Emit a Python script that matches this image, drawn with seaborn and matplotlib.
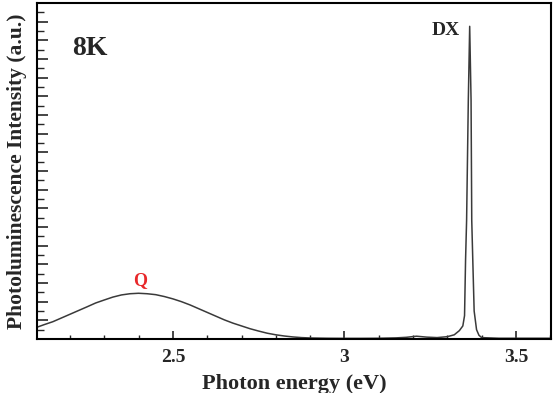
import numpy as np
import matplotlib
matplotlib.use("Agg")
import matplotlib.pyplot as plt
from matplotlib.ticker import MultipleLocator
import seaborn as sns
import pandas as pd

# PL spectrum (intensity in arbitrary units)
energy = [2.100, 2.125, 2.150, 2.175, 2.200, 2.225, 2.250, 2.275, 2.300, 2.325,
          2.350, 2.375, 2.400, 2.425, 2.450, 2.475, 2.500, 2.525, 2.550, 2.575,
          2.600, 2.625, 2.650, 2.675, 2.700, 2.725, 2.750, 2.775, 2.800, 2.825,
          2.850, 2.875, 2.900, 2.950, 3.000, 3.050, 3.100, 3.150, 3.180, 3.210,
          3.240, 3.270, 3.300, 3.320, 3.335, 3.345, 3.350, 3.353, 3.356, 3.361,
          3.365, 3.369, 3.371, 3.374, 3.378, 3.385, 3.392, 3.400, 3.450, 3.600]
intensity = [1.21, 1.54, 1.85, 2.25, 2.65, 3.05, 3.45, 3.86, 4.18, 4.49,
             4.72, 4.85, 4.90, 4.85, 4.75, 4.55, 4.30, 4.00, 3.65, 3.25,
             2.85, 2.45, 2.05, 1.70, 1.40, 1.10, 0.85, 0.62, 0.45, 0.32,
             0.22, 0.15, 0.11, 0.08, 0.07, 0.07, 0.08, 0.12, 0.18, 0.30,
             0.20, 0.15, 0.25, 0.45, 0.90, 1.40, 2.50, 8.50, 12.7, 25.6,
             33.5, 25.6, 12.7, 8.50, 3.00, 1.00, 0.40, 0.15, 0.08, 0.08]

df = pd.DataFrame({"energy": energy, "intensity": intensity})

sns.set_style("ticks")
plt.rcParams['font.family'] = ['Liberation Serif', 'DejaVu Serif']

fig = plt.figure(figsize=(5.54, 3.93), dpi=100)
ax = fig.add_axes([0.0668, 0.1374, 0.9278, 0.855])

sns.lineplot(data=df, x="energy", y="intensity", color="#3a3a3a", linewidth=1.1,
             estimator=None, ax=ax)

ax.set_xlim(2.104, 3.602)
ax.set_ylim(0, 36)
ax.xaxis.set_major_locator(MultipleLocator(0.5))
ax.xaxis.set_minor_locator(MultipleLocator(0.1))
ax.yaxis.set_major_locator(MultipleLocator(2))
ax.yaxis.set_minor_locator(MultipleLocator(1))
ax.set_xticks([2.5, 3.0, 3.5])
ax.set_xticklabels(["2.5", "3", "3.5"], fontweight="bold", fontsize=14)
ax.set_yticklabels([])
ax.tick_params(axis="x", which="major", direction="in", length=6, width=1.2, pad=7)
ax.tick_params(axis="x", which="minor", direction="in", length=3, width=1.0)
ax.tick_params(axis="y", which="major", direction="in", length=8, width=1.2)
ax.tick_params(axis="y", which="minor", direction="in", length=5, width=1.0)
for s in ax.spines.values():
    s.set_linewidth(1.5)
    s.set_color("black")

ax.set_xlabel("Photon energy (eV)", fontweight="bold", fontsize=16, labelpad=6)
ax.set_ylabel("Photoluminescence Intensity (a.u.)", fontweight="bold", fontsize=15.5, labelpad=4)

ax.text(2.259, 31.1, "8K", fontweight="bold", fontsize=20, ha="center", va="center")
ax.text(3.296, 33.1, "DX", fontweight="bold", fontsize=14, ha="center", va="center")
ax.text(2.404, 6.3, "Q", fontweight="bold", fontsize=13, color="#e8282a", ha="center", va="center")

fig.savefig("out.png", dpi=100)
